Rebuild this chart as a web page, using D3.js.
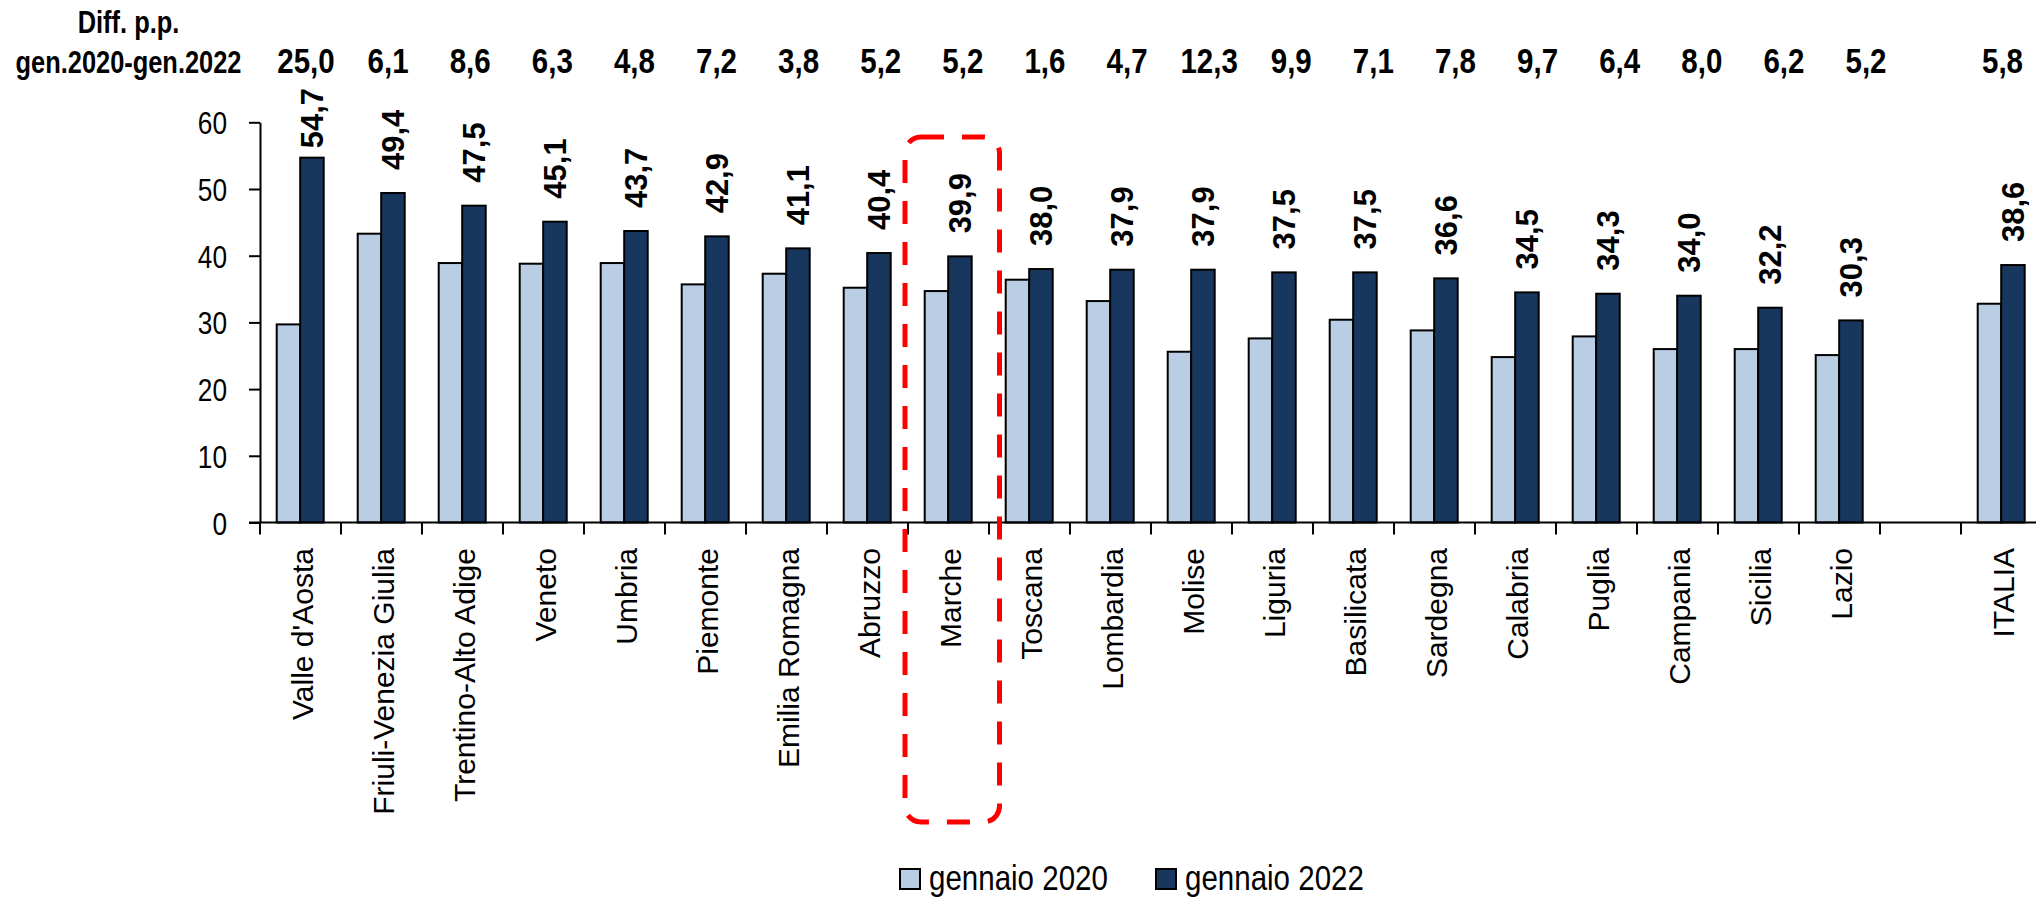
<!DOCTYPE html>
<html>
<head>
<meta charset="utf-8">
<script src="https://cdnjs.cloudflare.com/ajax/libs/d3/7.8.5/d3.min.js"></script>
<style>
  body { margin: 0; background: #fff; }
  svg { display: block; }
  text { font-family: "Liberation Sans", Arial, sans-serif; }
</style>
</head>
<body>
<div id="container"></div>
<script>
/* CONSTANTS AND GLOBALS */
const width = 2036;
const height = 898;

const regions = ["Valle d'Aosta", "Friuli-Venezia Giulia", "Trentino-Alto Adige", "Veneto", "Umbria",
  "Piemonte", "Emilia Romagna", "Abruzzo", "Marche", "Toscana", "Lombardia", "Molise", "Liguria",
  "Basilicata", "Sardegna", "Calabria", "Puglia", "Campania", "Sicilia", "Lazio"];
const total = "ITALIA";
const categories = [...regions, " ", total]; // blank slot before ITALIA

const gen2020 = [29.7, 43.3, 38.9, 38.8, 38.9, 35.7, 37.3, 35.2, 34.7, 36.4, 33.2, 25.6, 27.6, 30.4,
  28.8, 24.8, 27.9, 26.0, 26.0, 25.1, 32.8];
const gen2022 = [54.7, 49.4, 47.5, 45.1, 43.7, 42.9, 41.1, 40.4, 39.9, 38.0, 37.9, 37.9, 37.5, 37.5,
  36.6, 34.5, 34.3, 34.0, 32.2, 30.3, 38.6];
const diffPP = ["25,0", "6,1", "8,6", "6,3", "4,8", "7,2", "3,8", "5,2", "5,2", "1,6", "4,7", "12,3",
  "9,9", "7,1", "7,8", "9,7", "6,4", "8,0", "6,2", "5,2", "5,8"];
const seriesNames = ["gennaio 2020", "gennaio 2022"];
const yTicks = [0, 10, 20, 30, 40, 50, 60];
const highlight = "Marche";

const colors = ["#b9cde5", "#17375e"];

const names = [...regions, total];
const data = names.map((n, i) => ({ name: n, v2020: gen2020[i], v2022: gen2022[i], diff: diffPP[i] }));

// no Arial Narrow installed: squeeze the regular face horizontally instead
function narrow(sel) {
  sel.each(function () {
    const t = d3.select(this);
    const x = +t.attr("x") || 0, y = +t.attr("y") || 0;
    t.attr("x", 0).attr("y", 0)
      .attr("transform", `translate(${x},${y}) scale(0.82,1)`);
  });
}

/* SCALES */
const xScale = d3.scaleBand()
  .domain(categories)
  .range([260, 260 + categories.length * 81])
  .padding(0);

const xSub = d3.scaleBand()
  .domain(["v2020", "v2022"])
  .range([16.7, 63.7]);

const yScale = d3.scaleLinear()
  .domain([0, 60])
  .range([522.5, 122.3]);

// header row of differences sits on its own slightly wider grid
const xHead = d3.scalePoint()
  .domain(regions)
  .range([306, 1866]);

/* HTML ELEMENTS */
const svg = d3.select("#container")
  .append("svg")
  .attr("width", width)
  .attr("height", height);

// bars
const groups = svg.selectAll("g.cat")
  .data(data)
  .join("g")
  .attr("class", "cat")
  .attr("transform", d => `translate(${xScale(d.name)},0)`);

groups.selectAll("rect")
  .data(d => ["v2020", "v2022"].map((k, j) => ({ key: k, value: d[k], j })))
  .join("rect")
  .attr("x", d => xSub(d.key))
  .attr("width", xSub.bandwidth())
  .attr("y", d => yScale(d.value))
  .attr("height", d => yScale(0) - yScale(d.value))
  .attr("fill", d => colors[d.j])
  .attr("stroke", "#000")
  .attr("stroke-width", 2);

// y axis
const yAxis = svg.append("g")
  .attr("transform", `translate(${xScale.range()[0]},0)`)
  .call(d3.axisLeft(yScale).tickValues(yTicks).tickSize(11).tickSizeOuter(0).tickPadding(22));
yAxis.select(".domain").attr("stroke", "#000").attr("stroke-width", 2);
yAxis.selectAll(".tick line").attr("stroke", "#000").attr("stroke-width", 2);
yAxis.selectAll(".tick text")
  .style("font-family", "'Liberation Sans', Arial, sans-serif")
  .style("font-size", "32px")
  .attr("fill", "#000")
  .attr("dy", "0.36em")
  .call(narrow);

// x axis: baseline with ticks between categories
const x0 = xScale.range()[0], x1 = xScale.range()[1];
svg.append("line")
  .attr("x1", x0 - 11).attr("x2", x1)
  .attr("y1", yScale(0)).attr("y2", yScale(0))
  .attr("stroke", "#000").attr("stroke-width", 2);
svg.selectAll("line.xtick")
  .data([...categories.map(c => xScale(c)), x1])
  .join("line")
  .attr("class", "xtick")
  .attr("x1", d => d).attr("x2", d => d)
  .attr("y1", yScale(0)).attr("y2", yScale(0) + 12)
  .attr("stroke", "#000").attr("stroke-width", 2);

// category labels
svg.selectAll("text.cat-label")
  .data(names)
  .join("text")
  .attr("class", "cat-label")
  .attr("transform", d => `translate(${xScale(d) + xScale.bandwidth() / 2 + 1.5},548) rotate(-90)`)
  .attr("text-anchor", "end")
  .attr("dy", "0.36em")
  .style("font-size", "30px")
  .attr("fill", "#000")
  .text(d => d);

// value labels over the 2022 bars
const labels = svg.selectAll("text.val")
  .data(data)
  .join("text")
  .attr("class", "val")
  .style("font-size", "31px")
  .style("font-weight", "bold")
  .attr("fill", "#000")
  .attr("text-anchor", "start")
  .attr("dy", "0.36em")
  .text(d => d3.format(".1f")(d.v2022).replace(".", ","));

labels.attr("transform", function (d) {
  const len = this.getComputedTextLength();
  let y = yScale(d.v2022) - 23;
  if (y - len < 88) y = 88 + len;
  const x = xScale(d.name) + xSub("v2022") + xSub.bandwidth() / 2;
  return `translate(${x},${y}) rotate(-90)`;
});

// header
const head = svg.append("g").style("font-weight", "bold").attr("fill", "#000");
head.append("text")
  .attr("x", 128.5).attr("y", 33)
  .attr("text-anchor", "middle")
  .style("font-size", "31px")
  .text("Diff. p.p.")
  .call(narrow);
head.append("text")
  .attr("x", 128.5).attr("y", 72.7)
  .attr("text-anchor", "middle")
  .style("font-size", "31px")
  .text("gen.2020-gen.2022")
  .call(narrow);
head.selectAll("text.diff")
  .data(data)
  .join("text")
  .attr("class", "diff")
  .attr("x", d => d.name === total ? xScale(total) + xScale.bandwidth() / 2 + 1 : xHead(d.name))
  .attr("y", 72.7)
  .attr("text-anchor", "middle")
  .style("font-size", "36px")
  .text(d => d.diff)
  .call(narrow);

// highlight box around Marche
svg.append("rect")
  .attr("x", xScale(highlight) - 3)
  .attr("y", 137)
  .attr("width", xScale.bandwidth() + 13.5)
  .attr("height", 685)
  .attr("rx", 16)
  .attr("fill", "none")
  .attr("stroke", "#ff0000")
  .attr("stroke-width", 5)
  .attr("stroke-dasharray", "23 18");

// legend
const legend = svg.append("g")
  .selectAll("g")
  .data(seriesNames)
  .join("g")
  .attr("transform", (d, i) => `translate(${900 + i * 256},869)`);
legend.append("rect")
  .attr("width", 20).attr("height", 20)
  .attr("fill", (d, i) => colors[i])
  .attr("stroke", "#000").attr("stroke-width", 2);
legend.append("text")
  .attr("x", 29).attr("y", 21)
  .style("font-size", "36px")
  .attr("fill", "#000")
  .text(d => d)
  .call(narrow);
</script>
</body>
</html>
